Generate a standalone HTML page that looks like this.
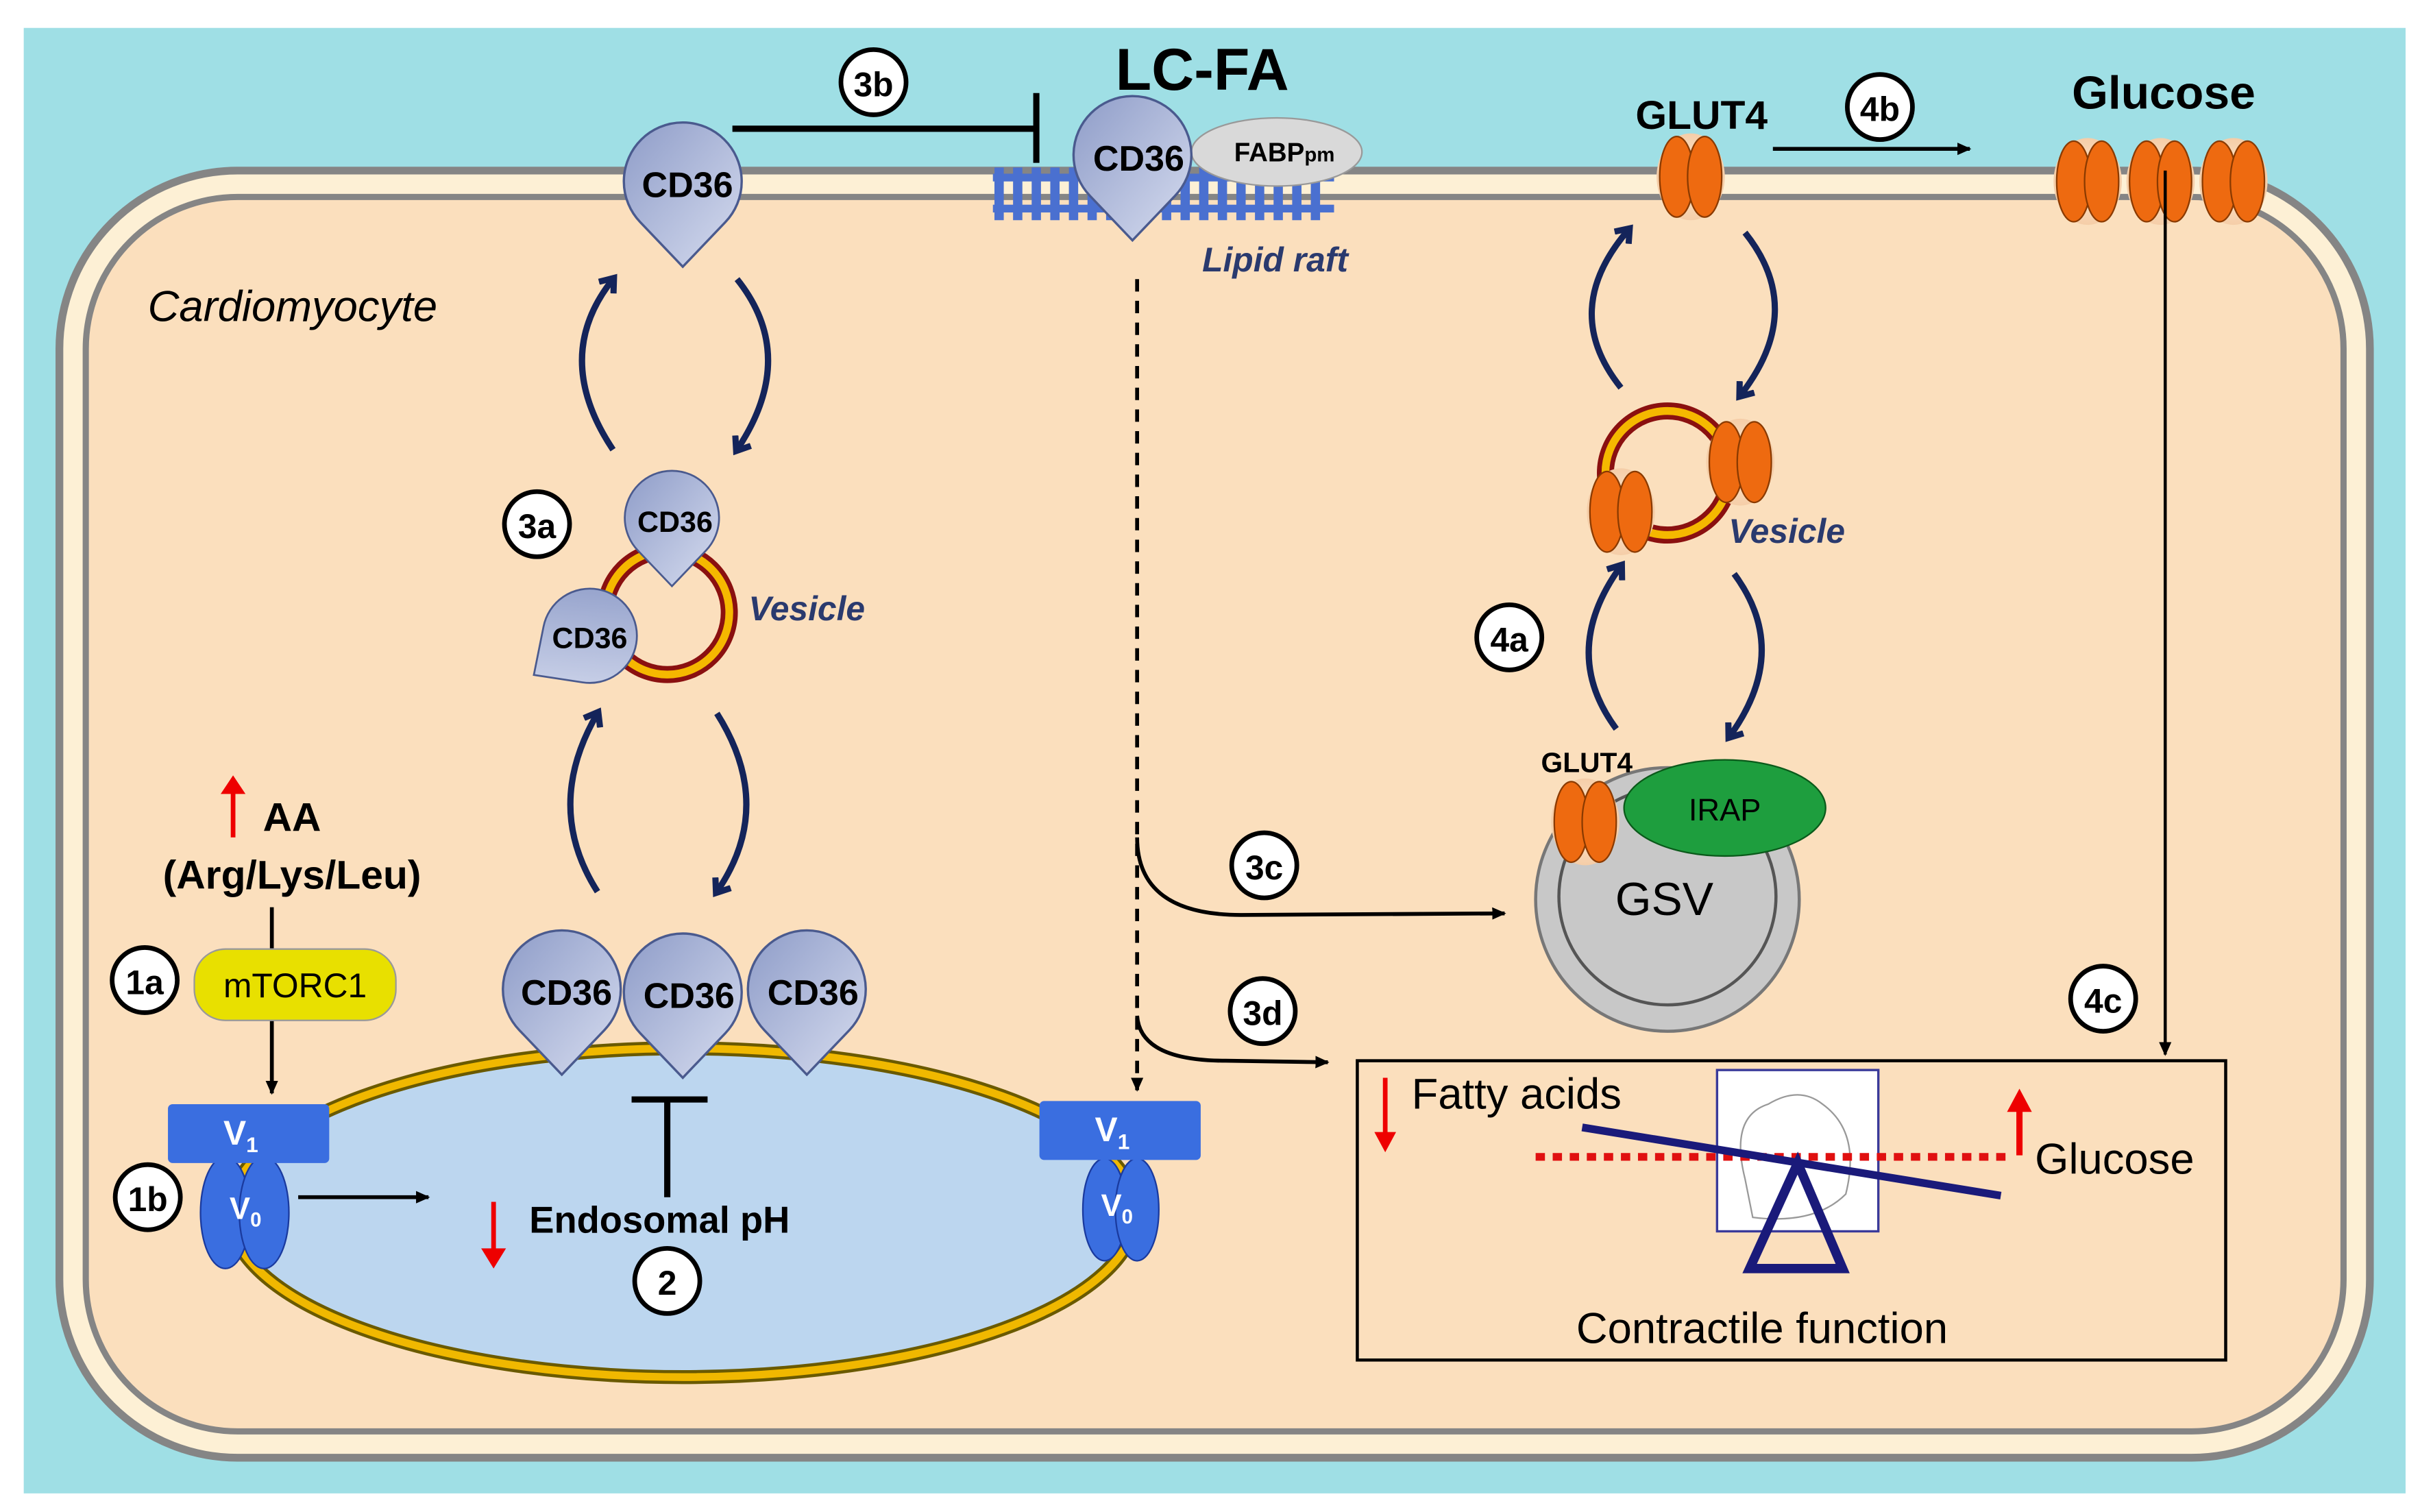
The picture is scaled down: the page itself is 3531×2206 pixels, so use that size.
<!DOCTYPE html>
<html><head><meta charset="utf-8"><style>html,body{margin:0;padding:0;background:#fff}svg{display:block}text{font-family:"Liberation Sans",sans-serif}</style></head><body>
<svg width="3531" height="2206" viewBox="0 0 1560 975" xmlns="http://www.w3.org/2000/svg">
<defs>
<linearGradient id="cd" x1="0" y1="0" x2="1" y2="1"><stop offset="0" stop-color="#8e9cc8"/><stop offset="1" stop-color="#d6dcef"/></linearGradient>
<radialGradient id="gl" cx="0.5" cy="0.5" r="0.6"><stop offset="0" stop-color="#ffe9d0"/><stop offset="1" stop-color="#f3c8a0"/></radialGradient>
<marker id="ah" markerWidth="10" markerHeight="10" refX="8" refY="5" orient="auto" markerUnits="userSpaceOnUse"><path d="M0,1 L9,5 L0,9 z" fill="#000"/></marker>
<marker id="nv" markerWidth="16" markerHeight="16" refX="8" refY="8" orient="auto" markerUnits="userSpaceOnUse"><path d="M1,2 L9,8 L1,14" fill="none" stroke="#14245a" stroke-width="4"/></marker>
<g id="cd36"><path d="M0,55 L-27.4,26.3 A38,38 0 1 1 27.4,26.3 Z" fill="url(#cd)" stroke="#4a5a8e" stroke-width="1.5"/></g>
<g id="g4"><ellipse cx="0" cy="0" rx="22" ry="28" fill="url(#gl)"/><ellipse cx="-9" cy="0" rx="11" ry="26" fill="#ee6a10" stroke="#8a3a00" stroke-width="1"/><ellipse cx="9" cy="0" rx="11" ry="26" fill="#ee6a10" stroke="#8a3a00" stroke-width="1"/></g>
</defs>
<rect width="1560" height="975" fill="#fff"/>
<rect x="15" y="18" width="1536" height="945" fill="#9fdfe5"/>
<rect x="38" y="110" width="1490" height="830" rx="115" fill="#fdf0d5" stroke="#858585" stroke-width="5"/>
<rect x="55" y="127" width="1456" height="796" rx="98" fill="#fbdfbd" stroke="#858585" stroke-width="4"/>
<g fill="#4a70d0">
<rect x="640" y="112" width="220" height="5"/>
<rect x="640" y="132" width="220" height="5"/>
</g>
<g stroke="#4a70d0" stroke-width="6">
<path d="M644 108V142M656 108V142M668 108V142M680 108V142M692 108V142M704 108V142M716 108V142M728 108V142M740 108V142M752 108V142M764 108V142M776 108V142M788 108V142M800 108V142M812 108V142M824 108V142M836 108V142M848 108V142"/>
</g>
<text x="775" y="58" font-size="38" font-weight="bold" text-anchor="middle">LC-FA</text>
<ellipse cx="823" cy="98" rx="55" ry="22" fill="#d9d9d9" stroke="#999"/>
<text x="828" y="104" font-size="17" font-weight="bold" text-anchor="middle">FABP<tspan font-size="13">pm</tspan></text>
<use href="#cd36" transform="translate(730,100)"/>
<text x="734" y="110" font-size="23" font-weight="bold" text-anchor="middle">CD36</text>
<text x="822" y="175" font-size="22" font-style="italic" font-weight="bold" fill="#2a3a6e" text-anchor="middle">Lipid raft</text>
<path d="M472 83H668M668 60V105" stroke="#000" stroke-width="4" fill="none"/>
<circle cx="563" cy="53" r="21" fill="#fff" stroke="#000" stroke-width="3"/><text x="563" y="62" font-size="22" font-weight="bold" text-anchor="middle">3b</text>
<use href="#cd36" transform="translate(440,117)"/>
<text x="443" y="127" font-size="23" font-weight="bold" text-anchor="middle">CD36</text>
<text x="95" y="207" font-size="28" font-style="italic">Cardiomyocyte</text>
<g stroke="#14245a" stroke-width="4" fill="none">
<path d="M395 290 Q355 230 395 180" marker-end="url(#nv)"/>
<path d="M475 180 Q515 230 475 290" marker-end="url(#nv)"/>
<path d="M385 575 Q350 520 385 460" marker-end="url(#nv)"/>
<path d="M462 460 Q500 520 462 575" marker-end="url(#nv)"/>
<path d="M1045 250 Q1005 200 1050 148" marker-end="url(#nv)"/>
<path d="M1125 150 Q1165 200 1122 255" marker-end="url(#nv)"/>
<path d="M1042 470 Q1005 420 1045 365" marker-end="url(#nv)"/>
<path d="M1118 370 Q1155 420 1115 475" marker-end="url(#nv)"/>
</g>
<circle cx="346" cy="338" r="21" fill="#fff" stroke="#000" stroke-width="3"/><text x="346" y="347" font-size="22" font-weight="bold" text-anchor="middle">3a</text>
<circle cx="430" cy="395" r="40" fill="none" stroke="#8a1010" stroke-width="11"/>
<circle cx="430" cy="395" r="40" fill="none" stroke="#f5b800" stroke-width="5"/>
<use href="#cd36" transform="translate(433,334) scale(0.8)"/>
<text x="435" y="343" font-size="19" font-weight="bold" text-anchor="middle">CD36</text>
<g transform="translate(380,410) rotate(55) scale(0.8)"><use href="#cd36"/></g>
<text x="380" y="418" font-size="19" font-weight="bold" text-anchor="middle">CD36</text>
<text x="520" y="400" font-size="22" font-style="italic" font-weight="bold" fill="#2a3a6e" text-anchor="middle">Vesicle</text>
<ellipse cx="440" cy="782" rx="292" ry="106" fill="#bcd6ef" stroke="#6a5a00" stroke-width="9"/>
<ellipse cx="440" cy="782" rx="292" ry="106" fill="none" stroke="#f0b800" stroke-width="5"/>
<use href="#cd36" transform="translate(362,638)"/><text x="365" y="648" font-size="23" font-weight="bold" text-anchor="middle">CD36</text>
<use href="#cd36" transform="translate(520,638)"/><text x="524" y="648" font-size="23" font-weight="bold" text-anchor="middle">CD36</text>
<use href="#cd36" transform="translate(440,640)"/><text x="444" y="650" font-size="23" font-weight="bold" text-anchor="middle">CD36</text>
<path d="M430 772V710M407 709H456" stroke="#000" stroke-width="4"/>
<path d="M318 775V812" stroke="#e00" stroke-width="3"/><path d="M310 805L318 818L326 805z" fill="#e00"/>
<text x="425" y="795" font-size="24" font-weight="bold" text-anchor="middle">Endosomal pH</text>
<circle cx="430" cy="826" r="21" fill="#fff" stroke="#000" stroke-width="3"/><text x="430" y="835" font-size="22" font-weight="bold" text-anchor="middle">2</text>
<path d="M150 540V505" stroke="#e00" stroke-width="3"/><path d="M142 512L150 500L158 512z" fill="#e00"/>
<text x="188" y="536" font-size="26" font-weight="bold" text-anchor="middle">AA</text>
<text x="188" y="573" font-size="26" font-weight="bold" text-anchor="middle">(Arg/Lys/Leu)</text>
<path d="M175 585V705" stroke="#000" stroke-width="2.5" marker-end="url(#ah)"/>
<rect x="125" y="612" width="130" height="46" rx="20" fill="#e8e000" stroke="#999"/>
<text x="190" y="643" font-size="22" text-anchor="middle">mTORC1</text>
<circle cx="93" cy="632" r="21" fill="#fff" stroke="#000" stroke-width="3"/><text x="93" y="641" font-size="22" font-weight="bold" text-anchor="middle">1a</text>
<ellipse cx="145" cy="782" rx="16" ry="36" fill="#3a6ee0" stroke="#1a3a9e"/><ellipse cx="170" cy="782" rx="16" ry="36" fill="#3a6ee0" stroke="#1a3a9e"/>
<text x="158" y="786" font-size="20" font-weight="bold" fill="#fff" text-anchor="middle">V<tspan font-size="13" dy="5">0</tspan></text>
<rect x="108" y="712" width="104" height="38" rx="3" fill="#3a6ee0"/>
<text x="155" y="738" font-size="22" font-weight="bold" fill="#fff" text-anchor="middle">V<tspan font-size="14" dy="5">1</tspan></text>
<circle cx="95" cy="772" r="21" fill="#fff" stroke="#000" stroke-width="3"/><text x="95" y="781" font-size="22" font-weight="bold" text-anchor="middle">1b</text>
<path d="M192 772H276" stroke="#000" stroke-width="2.5" marker-end="url(#ah)"/>
<ellipse cx="712" cy="780" rx="14" ry="33" fill="#3a6ee0" stroke="#1a3a9e"/><ellipse cx="733" cy="780" rx="14" ry="33" fill="#3a6ee0" stroke="#1a3a9e"/>
<text x="720" y="784" font-size="20" font-weight="bold" fill="#fff" text-anchor="middle">V<tspan font-size="13" dy="5">0</tspan></text>
<rect x="670" y="710" width="104" height="38" rx="3" fill="#3a6ee0"/>
<text x="717" y="736" font-size="22" font-weight="bold" fill="#fff" text-anchor="middle">V<tspan font-size="14" dy="5">1</tspan></text>
<path d="M733 180V703" stroke="#000" stroke-width="2.5" stroke-dasharray="8,6" marker-end="url(#ah)"/>
<path d="M733 540 Q733 590 800 590 L970 589" stroke="#000" stroke-width="2.5" fill="none" marker-end="url(#ah)"/>
<circle cx="815" cy="558" r="21" fill="#fff" stroke="#000" stroke-width="3"/><text x="815" y="567" font-size="22" font-weight="bold" text-anchor="middle">3c</text>
<path d="M733 655 Q735 684 790 684 L856 685" stroke="#000" stroke-width="2.5" fill="none" marker-end="url(#ah)"/>
<circle cx="814" cy="652" r="21" fill="#fff" stroke="#000" stroke-width="3"/><text x="814" y="661" font-size="22" font-weight="bold" text-anchor="middle">3d</text>
<circle cx="1075" cy="580" r="85" fill="#c8c8c8" stroke="#777" stroke-width="2"/>
<circle cx="1075" cy="578" r="70" fill="none" stroke="#555" stroke-width="2"/>
<text x="1073" y="590" font-size="30" text-anchor="middle">GSV</text>
<ellipse cx="1112" cy="521" rx="65" ry="31" fill="#1e9e3e" stroke="#0a5a1a"/>
<text x="1112" y="529" font-size="20" text-anchor="middle">IRAP</text>
<use href="#g4" transform="translate(1022,530)"/>
<text x="1023" y="498" font-size="18" font-weight="bold" text-anchor="middle">GLUT4</text>
<circle cx="973" cy="411" r="21" fill="#fff" stroke="#000" stroke-width="3"/><text x="973" y="420" font-size="22" font-weight="bold" text-anchor="middle">4a</text>
<circle cx="1075" cy="305" r="40" fill="none" stroke="#8a1010" stroke-width="11"/>
<circle cx="1075" cy="305" r="40" fill="none" stroke="#f5b800" stroke-width="5"/>
<use href="#g4" transform="translate(1045,330)"/>
<use href="#g4" transform="translate(1122,298)"/>
<text x="1152" y="350" font-size="22" font-style="italic" font-weight="bold" fill="#2a3a6e" text-anchor="middle">Vesicle</text>
<use href="#g4" transform="translate(1090,114)"/>
<text x="1097" y="83" font-size="26" font-weight="bold" text-anchor="middle">GLUT4</text>
<circle cx="1212" cy="69" r="21" fill="#fff" stroke="#000" stroke-width="3"/><text x="1212" y="78" font-size="22" font-weight="bold" text-anchor="middle">4b</text>
<path d="M1143 96H1270" stroke="#000" stroke-width="2.5" marker-end="url(#ah)"/>
<text x="1395" y="70" font-size="30" font-weight="bold" text-anchor="middle">Glucose</text>
<use href="#g4" transform="translate(1346,117)"/><use href="#g4" transform="translate(1393,117)"/><use href="#g4" transform="translate(1440,117)"/>
<path d="M1396 110V680" stroke="#000" stroke-width="2" marker-end="url(#ah)"/>
<circle cx="1356" cy="644" r="21" fill="#fff" stroke="#000" stroke-width="3"/><text x="1356" y="653" font-size="22" font-weight="bold" text-anchor="middle">4c</text>
<rect x="875" y="684" width="560" height="193" fill="none" stroke="#000" stroke-width="2"/>
<path d="M893 695V735" stroke="#e00" stroke-width="3"/><path d="M886 730L893 743L900 730z" fill="#e00"/>
<text x="910" y="715" font-size="28">Fatty acids</text>
<rect x="1107" y="690" width="104" height="104" fill="#fff" stroke="#3a3a9a" stroke-width="1.5"/>
<path d="M1125 760 Q1115 720 1140 712 Q1160 700 1175 712 Q1200 730 1190 770 Q1170 790 1130 785z" fill="none" stroke="#999" stroke-width="1"/>
<path d="M990 746H1295" stroke="#e01010" stroke-width="5" stroke-dasharray="6,5"/>
<path d="M1020 727L1290 771" stroke="#1a1a7a" stroke-width="5"/>
<path d="M1159 750L1128 818H1188z" fill="none" stroke="#1a1a7a" stroke-width="6"/>
<path d="M1302 745V712" stroke="#e00" stroke-width="4"/><path d="M1294 717L1302 702L1310 717z" fill="#e00"/>
<text x="1312" y="757" font-size="28">Glucose</text>
<text x="1136" y="866" font-size="28" text-anchor="middle">Contractile function</text>
</svg>
</body></html>
